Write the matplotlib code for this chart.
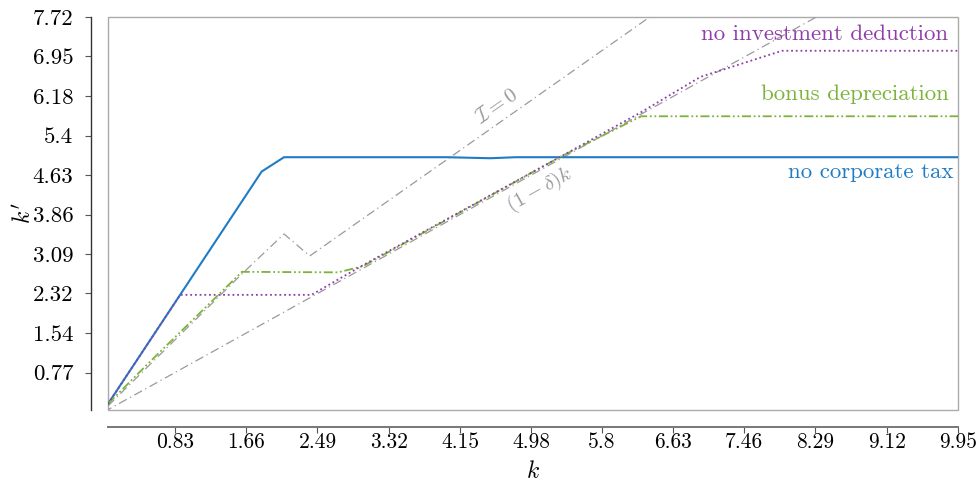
import matplotlib
matplotlib.use("Agg")
import matplotlib.pyplot as plt
from matplotlib.patches import Rectangle
import numpy as np

plt.rcParams['font.family'] = 'cmr10'
plt.rcParams['mathtext.fontset'] = 'cm'
plt.rcParams['axes.formatter.use_mathtext'] = True

# Data
k_nocorp = [0.05, 1.84, 2.10, 4.0, 4.5, 4.8, 9.95]
kp_nocorp = [0.16, 4.70, 4.98, 4.98, 4.96, 4.98, 4.98]

k_noinv = [0.05, 0.89, 2.42, 3.02, 5.31, 6.26, 6.95, 7.90, 9.95]
kp_noinv = [0.16, 2.29, 2.29, 2.87, 4.98, 5.86, 6.55, 7.06, 7.06]

k_bonus = [0.05, 0.5, 1.61, 2.73, 3.02, 5.31, 6.26, 9.95]
kp_bonus = [0.16, 0.92, 2.74, 2.73, 2.85, 4.98, 5.78, 5.78]

k_izero = [0.05, 1.61, 2.10, 2.40, 6.36, 6.60]
kp_izero = [0.12, 2.70, 3.48, 3.05, 7.72, 8.00]

k_dep = [0.0, 9.95]
kp_dep = [0.0, 0.93 * 9.95]

xticks = [0.83, 1.66, 2.49, 3.32, 4.15, 4.98, 5.8, 6.63, 7.46, 8.29, 9.12, 9.95]
yticks = [0.77, 1.54, 2.32, 3.09, 3.86, 4.63, 5.4, 6.18, 6.95, 7.72]

c_blue = '#1f7cc4'
c_purple = '#8e3ea8'
c_green = '#7cb33a'
c_gray = '#9a9a9a'

fig = plt.figure(figsize=(9.76, 4.82), dpi=100)
ax = fig.add_axes([108/976, 1 - 410/482, (958-108)/976, (410-17)/482])

ax.plot(k_dep, kp_dep, color=c_gray, lw=0.9, dashes=(7, 3, 1, 3))
ax.plot(k_izero, kp_izero, color=c_gray, lw=0.9, dashes=(7, 3, 1, 3))
ax.plot(k_nocorp, kp_nocorp, color=c_blue, lw=1.5)
ax.plot(k_bonus, kp_bonus, color=c_green, lw=1.3, dashes=(5, 1.5, 1, 1.5, 1, 1.5))
ax.plot(k_noinv, kp_noinv, color=c_purple, lw=1.3, dashes=(1, 1.6))

ax.set_xlim(0.05, 9.95)
ax.set_ylim(0.04, 7.72)
ax.set_xticks(xticks)
ax.set_xticklabels([str(t) for t in xticks])
ax.set_yticks(yticks)
ax.set_yticklabels([str(t) for t in yticks])

for s in ['top', 'right']:
    ax.spines[s].set_visible(False)
ax.spines['left'].set_position(('outward', 12))
ax.spines['bottom'].set_position(('outward', 12))
ax.spines['left'].set_color('#333333')
ax.spines['bottom'].set_color('#777777')
ax.spines['bottom'].set_linewidth(1.4)
ax.spines['left'].set_linewidth(1.0)
ax.tick_params(axis='both', length=4, width=0.8, colors='#555555', labelcolor='black')
ax.tick_params(axis='y', pad=9, labelsize=16.5)
ax.tick_params(axis='x', pad=0.5, labelsize=15.5)

ax.add_patch(Rectangle((0, 0), 1, 1, transform=ax.transAxes, fill=False,
                       edgecolor='#aaaaaa', lw=1.0, clip_on=False))

ax.set_xlabel('$k$', fontsize=17, labelpad=6)
ax.set_ylabel("$k'$", fontsize=17, labelpad=-2)

ax.text(9.84, 7.38, 'no investment deduction', color=c_purple, fontsize=16.5,
        ha='right', va='center')
ax.text(9.84, 6.21, 'bonus depreciation', color=c_green, fontsize=16.5,
        ha='right', va='center')
ax.text(9.90, 4.68, 'no corporate tax', color=c_blue, fontsize=16.5,
        ha='right', va='center')
ax.text(4.58, 5.97, r'$\mathcal{I}=0$', color=c_gray, fontsize=15, rotation=35,
        ha='center', va='center')
ax.text(5.08, 4.33, r'$(1-\delta)k$', color=c_gray, fontsize=15, rotation=29,
        ha='center', va='center')

fig.savefig('out.png', dpi=100)
